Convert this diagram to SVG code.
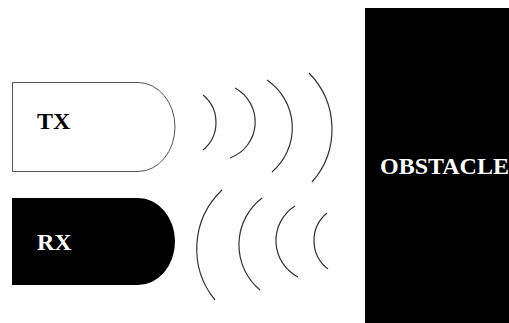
<svg xmlns="http://www.w3.org/2000/svg" width="509" height="323" viewBox="0 0 509 323">
<style>
.lbl{font-family:"Liberation Serif","Times New Roman",serif;font-weight:bold;font-size:24px}
.wave{fill:none;stroke:#333;stroke-width:1.2}
</style>
<rect width="509" height="323" fill="#fff"/>
<g id="tx">
<path d="M12.5,82.5 H138 A37,44.5 0 0 1 138,171.5 H12.5 Z" fill="#fff" stroke="#555" stroke-width="1"/>
<text class="lbl" x="37" y="129" fill="#000">TX</text>
</g>
<g id="rx">
<path d="M12,198 H138 A37,43.5 0 0 1 138,285 H12 Z" fill="#000"/>
<text class="lbl" x="37" y="250" fill="#fff">RX</text>
</g>
<g id="obstacle">
<rect x="365" y="8" width="144" height="315" fill="#000"/>
<text class="lbl" x="380" y="174" fill="#fff">OBSTACLE</text>
</g>
<g id="connectors">
<path class="wave" d="M203,95 A35.6,35.6 0 0 1 203,150"/>
<path class="wave" d="M235,88 A38.5,38.5 0 0 1 230,158"/>
<path class="wave" d="M267,80 A58,58 0 0 1 272,172"/>
<path class="wave" d="M309,73 A80,80 0 0 1 312,182"/>
<path class="wave" d="M222,190 A81,81 0 0 0 215,300"/>
<path class="wave" d="M262,198 A59,59 0 0 0 260,290"/>
<path class="wave" d="M295,206 A41,41 0 0 0 298,277"/>
<path class="wave" d="M327,213 A35.8,35.8 0 0 0 328,269"/>
</g>
</svg>
